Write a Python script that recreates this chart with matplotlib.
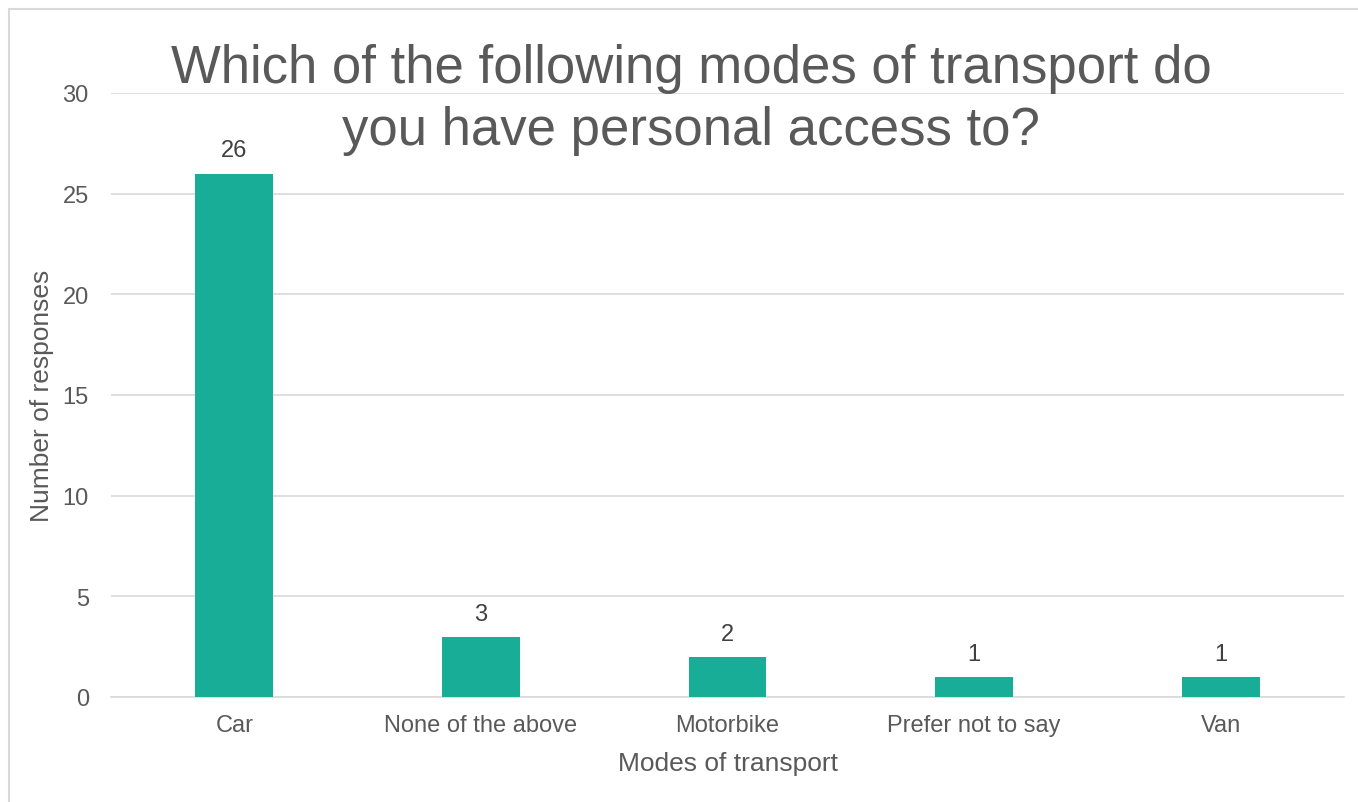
import matplotlib
matplotlib.use("Agg")
import matplotlib.pyplot as plt
from matplotlib.patches import Rectangle

categories = ["Car", "None of the above", "Motorbike", "Prefer not to say", "Van"]
responses = [26, 3, 2, 1, 1]
yticks = [0, 5, 10, 15, 20, 25, 30]

plt.rcParams['font.family'] = ['Liberation Sans', 'DejaVu Sans']

fig = plt.figure(figsize=(13.58, 8.03), dpi=100)
ax = fig.add_axes([111/1358, 1-698/803, (1344-111)/1358, (698-94)/803])

x = list(range(len(categories)))
bars = ax.bar(x, responses, width=0.316, color="#17AD96", zorder=3)
for xi, v in zip(x, responses):
    ax.text(xi, v + 0.6, str(v), ha='center', va='bottom', fontsize=17, color="#404040")

ax.set_xlim(-0.5, len(categories) - 0.5)
ax.set_ylim(0, 30)
ax.set_yticks(yticks)
ax.set_yticklabels([str(t) for t in yticks])
ax.set_xticks(x)
ax.set_xticklabels(categories)
ax.tick_params(axis='both', length=0, labelsize=17, labelcolor="#595959")
ax.tick_params(axis='x', pad=12)
ax.tick_params(axis='y', pad=16)
ax.grid(axis='y', color="#D9D9D9", linewidth=1.2, zorder=0)
for s in ['top', 'right', 'left']:
    ax.spines[s].set_visible(False)
ax.spines['bottom'].set_color("#D9D9D9")
ax.spines['bottom'].set_linewidth(1.2)

ax.set_xlabel("Modes of transport", fontsize=19, color="#595959", labelpad=11)
ax.set_ylabel("Number of responses", fontsize=19, color="#595959", labelpad=6)

fig.text(691/1358, 1-100/803, "Which of the following modes of transport do\nyou have personal access to?",
         ha='center', va='center', fontsize=38, color="#595959", linespacing=1.3)

fig.patches.append(Rectangle((9/1358, -0.05), 1.2, 1-10/803+0.05, transform=fig.transFigure,
                             fill=False, edgecolor="#D9D9D9", linewidth=1.5))

fig.savefig("out.png", dpi=100, facecolor="white")
